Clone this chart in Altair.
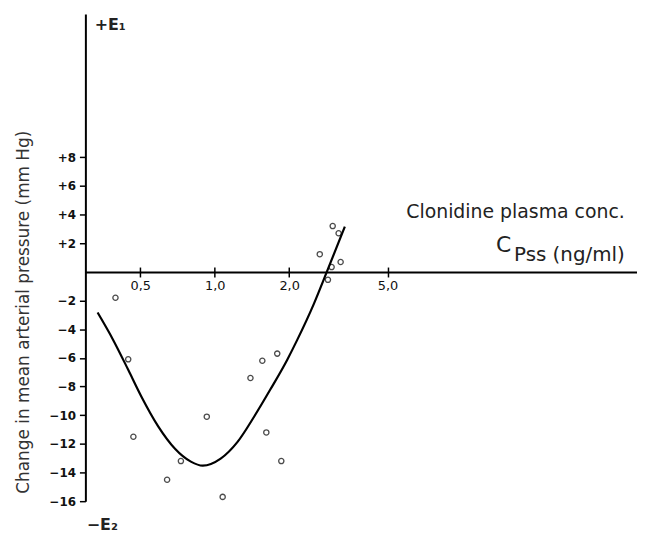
import altair as alt
import pandas as pd

# Data
point_conc = [0.397, 0.447, 0.469, 0.642, 0.730, 0.929, 1.077, 1.395, 1.558, 1.617,
              1.79, 1.859, 2.66, 2.87, 2.97, 3.00, 3.17, 3.23]
point_change = [-1.8, -6.1, -11.5, -14.5, -13.2, -10.1, -15.7, -7.4, -6.2, -11.2,
                -5.7, -13.2, 1.24, -0.55, 0.34, 3.2, 2.7, 0.69]

curve_conc = [0.336, 0.389, 0.447, 0.505, 0.590, 0.691, 0.801, 0.895, 1.057, 1.237,
              1.447, 1.678, 1.963, 2.154, 2.52, 2.84, 3.36]
curve_change = [-2.83, -4.76, -6.83, -8.69, -10.76, -12.34, -13.24, -13.52, -13.03, -11.86,
                -10.07, -8.21, -6.14, -4.76, -2.21, 0.0, 3.17]

x_ticks = [0.5, 1.0, 2.0, 5.0]
y_ticks = [8, 6, 4, 2, -2, -4, -6, -8, -10, -12, -14, -16]

ann_text = ["Clonidine plasma conc.", "Pss (ng/ml)", "C", "+E\u2081", "\u2212E\u2082"]
ann_x = [45.5, 45.5, 15.8, 0.327, 0.304]
ann_y = [3.8, 0.76, 1.38, 16.9, -18.0]
ann_size = [19, 20, 22, 16, 16]
ann_align = ["right", "right", "right", "left", "left"]
ann_weight = ["normal", "normal", "normal", "bold", "bold"]

pts = pd.DataFrame({"conc": point_conc, "change": point_change})
crv = pd.DataFrame({"conc": curve_conc, "change": curve_change})
ann = pd.DataFrame({"text": ann_text, "conc": ann_x, "change": ann_y})

FONT = "DejaVu Sans"
xscale = alt.Scale(type="log", domain=[0.3, 51], nice=False)
yscale = alt.Scale(domain=[-16, 18], nice=False, zero=False)

xaxis_bottom = alt.Axis(
    orient="bottom", offset=-231, values=x_ticks, grid=False, title=None,
    labelExpr="replace(format(datum.value, '.1f'), '.', ',')",
    labelFont=FONT, labelFontSize=13, labelColor="#111", labelPadding=3,
    tickSize=5, tickColor="black", tickWidth=1.5,
    domainColor="black", domainWidth=2, labelFlush=False,
)
xaxis_top = alt.Axis(
    orient="top", offset=-260, values=x_ticks, grid=False, title=None,
    labels=False, domain=False, tickSize=5, tickColor="black", tickWidth=1.5,
)
yaxis = alt.Axis(
    orient="left", values=y_ticks, grid=False,
    title="Change in mean arterial pressure (mm Hg)",
    titleFont=FONT, titleFontSize=17, titleFontWeight="normal", titleColor="#333",
    titleX=-62, titleY=300, titleAngle=-90, titleAlign="center", titleBaseline="middle",
    titleLimit=600,
    labelExpr="datum.value > 0 ? '+' + datum.value : '\u2212' + abs(datum.value)",
    labelFont=FONT, labelFontSize=12, labelFontWeight="bold", labelColor="#111",
    labelPadding=4, tickSize=6, tickColor="black", tickWidth=1.5,
    domainColor="black", domainWidth=2,
)

points = alt.Chart(pts).mark_point(
    shape="circle", size=28, filled=False, stroke="black", strokeWidth=1.3
).encode(
    x=alt.X("conc:Q", scale=xscale, axis=xaxis_bottom),
    y=alt.Y("change:Q", scale=yscale, axis=yaxis),
)

line = alt.Chart(crv).mark_line(
    color="black", strokeWidth=2.2, interpolate="monotone"
).encode(
    x=alt.X("conc:Q", scale=xscale, axis=xaxis_top),
    y=alt.Y("change:Q", scale=yscale, axis=yaxis),
)

texts = []
for i in range(len(ann_text)):
    texts.append(
        alt.Chart(ann.iloc[[i]]).mark_text(
            font=FONT, fontSize=ann_size[i], align=ann_align[i],
            fontWeight=ann_weight[i], baseline="alphabetic", color="#222",
        ).encode(
            x=alt.X("conc:Q", scale=xscale, axis=None),
            y=alt.Y("change:Q", scale=yscale, axis=yaxis),
            text="text:N",
        )
    )

chart = alt.layer(points, line, *texts).resolve_axis(x="independent").properties(
    width=556, height=491,
    autosize=alt.AutoSizeParams(type="none"),
    padding={"left": 78, "top": 4, "right": 0, "bottom": 34},
    background="white",
).configure_view(stroke=None)

chart.save("out.html", embed_options={"renderer": "svg", "actions": False})
